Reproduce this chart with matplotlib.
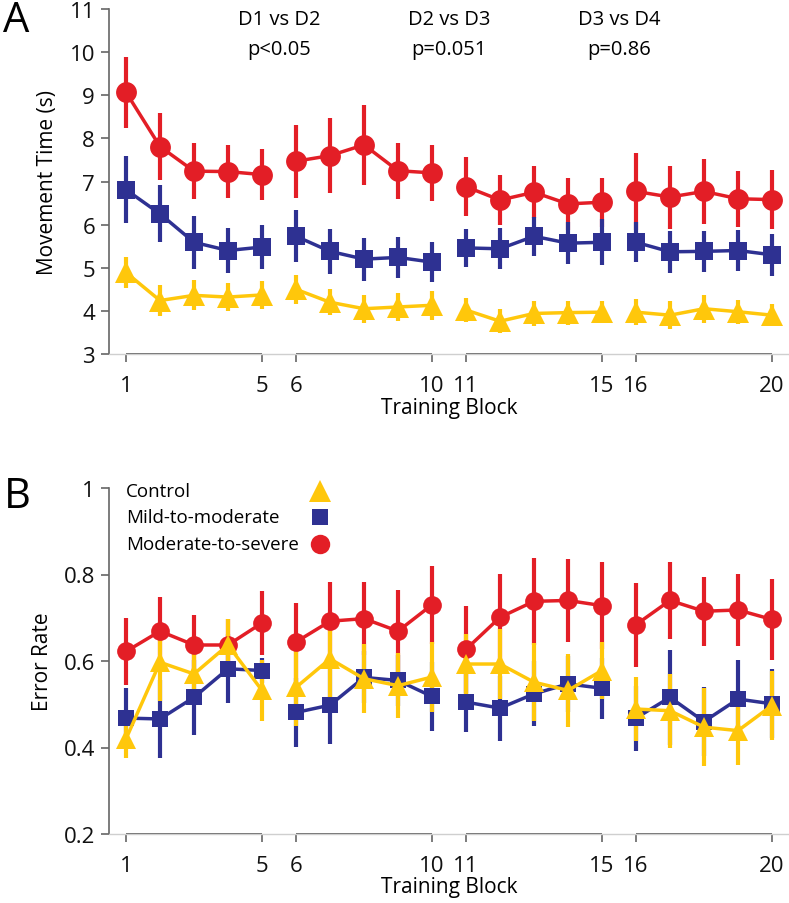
import matplotlib
matplotlib.use("Agg")
import matplotlib.pyplot as plt
import numpy as np

plt.rcParams['font.family'] = ['Open Sans', 'DejaVu Sans']

blocks = np.arange(1, 21)
groups = [(1, 5), (6, 10), (11, 15), (16, 20)]

# Panel A: movement time (s)
mt_severe = [9.07, 7.81, 7.24, 7.23, 7.16, 7.47, 7.60, 7.85, 7.25, 7.20,
             6.88, 6.57, 6.75, 6.48, 6.52, 6.77, 6.64, 6.77, 6.60, 6.58]
mt_severe_err = [0.82, 0.77, 0.65, 0.62, 0.60, 0.85, 0.87, 0.93, 0.65, 0.65,
                 0.68, 0.57, 0.60, 0.60, 0.57, 0.90, 0.73, 0.76, 0.65, 0.68]
mt_mild = [6.81, 6.25, 5.59, 5.40, 5.48, 5.73, 5.38, 5.20, 5.24, 5.13,
           5.46, 5.44, 5.73, 5.57, 5.59, 5.59, 5.37, 5.38, 5.40, 5.30]
mt_mild_err = [0.78, 0.66, 0.62, 0.53, 0.52, 0.60, 0.52, 0.50, 0.48, 0.47,
               0.45, 0.48, 0.45, 0.49, 0.53, 0.46, 0.49, 0.47, 0.48, 0.48]
mt_control = [4.89, 4.24, 4.36, 4.32, 4.37, 4.50, 4.20, 4.05, 4.09, 4.13,
              4.02, 3.76, 3.94, 3.96, 3.97, 3.97, 3.90, 4.05, 3.98, 3.90]
mt_control_err = [0.35, 0.35, 0.35, 0.33, 0.33, 0.33, 0.30, 0.32, 0.32, 0.33,
                  0.28, 0.28, 0.28, 0.28, 0.26, 0.30, 0.32, 0.32, 0.28, 0.26]

# Panel B: error rate
er_severe = [0.622, 0.669, 0.637, 0.637, 0.688, 0.644, 0.692, 0.698, 0.669, 0.730,
             0.627, 0.701, 0.738, 0.740, 0.728, 0.684, 0.740, 0.715, 0.718, 0.696]
er_severe_err = [0.077, 0.080, 0.070, 0.060, 0.075, 0.090, 0.090, 0.085, 0.095, 0.090,
                 0.100, 0.100, 0.100, 0.095, 0.100, 0.097, 0.090, 0.080, 0.083, 0.093]
er_mild = [0.468, 0.466, 0.516, 0.582, 0.578, 0.481, 0.498, 0.562, 0.555, 0.518,
           0.505, 0.491, 0.524, 0.547, 0.537, 0.468, 0.516, 0.460, 0.512, 0.501]
er_mild_err = [0.070, 0.090, 0.087, 0.080, 0.030, 0.080, 0.090, 0.060, 0.060, 0.080,
               0.070, 0.075, 0.075, 0.065, 0.070, 0.075, 0.110, 0.080, 0.090, 0.080]
er_control = [0.420, 0.597, 0.570, 0.637, 0.532, 0.539, 0.605, 0.559, 0.543, 0.563,
              0.593, 0.593, 0.551, 0.532, 0.578, 0.489, 0.485, 0.447, 0.439, 0.497]
er_control_err = [0.045, 0.090, 0.070, 0.060, 0.070, 0.090, 0.100, 0.080, 0.075, 0.080,
                  0.070, 0.080, 0.090, 0.085, 0.065, 0.075, 0.085, 0.090, 0.080, 0.080]

series_labels = ['Control', 'Mild-to-moderate', 'Moderate-to-severe']
xtick_labels = ['1', '5', '6', '10', '11', '15', '16', '20']
comparisons = [('D1 vs D2', 'p<0.05'), ('D2 vs D3', 'p=0.051'), ('D3 vs D4', 'p=0.86')]

RED = '#E31E26'
BLUE = '#2E3192'
YEL = '#FFC70B'
AX = '#666666'

fig = plt.figure(figsize=(7.89, 9.04), dpi=100)
W, H = 789, 904
axA = fig.add_axes([109 / W, 1 - 355 / H, 680 / W, 345 / H])
axB = fig.add_axes([109 / W, 1 - 835 / H, 680 / W, 346 / H])


def draw(ax, data, msizes, lw, elw):
    b = np.array(blocks)
    for vals, errs, col, mk in data:
        ax.errorbar(b, vals, yerr=errs, fmt='none', ecolor=col, elinewidth=elw,
                    capsize=0, zorder=2)
    for (vals, errs, col, mk), ms in zip(data, msizes):
        v = np.array(vals)
        for g0, g1 in groups:
            sel = (b >= g0) & (b <= g1)
            ax.plot(b[sel], v[sel], color=col, lw=lw, marker=mk, ms=ms,
                    markeredgewidth=0, zorder=3)


def style(ax, ylim, yticks, yticklabels):
    ax.set_xlim(0.5, 20.5)
    ax.set_ylim(*ylim)
    for s in ['top', 'right']:
        ax.spines[s].set_visible(False)
    ax.spines['left'].set_color(AX)
    ax.spines['left'].set_linewidth(1.2)
    ax.spines['bottom'].set_color('#cfcfcf')
    ax.spines['bottom'].set_linewidth(1.0)
    ax.set_yticks(yticks)
    ax.set_yticklabels(yticklabels)
    ax.set_xticks([1, 5, 6, 10, 11, 15, 16, 20])
    ax.set_xticklabels(xtick_labels)
    ax.tick_params(axis='both', direction='out', color=AX, width=1.2, length=6,
                   labelsize=16, labelcolor='#111111')
    ax.tick_params(axis='x', pad=9)
    ax.tick_params(axis='y', pad=4)
    for g0, g1 in groups:
        ax.plot([g0, g1], [ylim[0], ylim[0]], color=AX, lw=1.4, clip_on=False,
                zorder=1, solid_capstyle='butt')


draw(axA, [(mt_severe, mt_severe_err, RED, 'o'),
           (mt_mild, mt_mild_err, BLUE, 's'),
           (mt_control, mt_control_err, YEL, '^')],
     [15, 13, 16], 2.5, 3.0)
style(axA, (3, 11), [3, 4, 5, 6, 7, 8, 9, 10, 11],
      ['3', '4', '5', '6', '7', '8', '9', '10', '11'])
axA.set_ylabel('Movement Time (s)', fontsize=15, labelpad=8)
axA.set_xlabel('Training Block', fontsize=15, labelpad=1)
for cx, (l1, l2) in zip([5.5, 10.5, 15.5], comparisons):
    axA.text(cx, 10.77, l1, ha='center', va='center', fontsize=14.5)
    axA.text(cx, 10.07, l2, ha='center', va='center', fontsize=14.5)

draw(axB, [(er_severe, er_severe_err, RED, 'o'),
           (er_mild, er_mild_err, BLUE, 's'),
           (er_control, er_control_err, YEL, '^')],
     [13.5, 11.5, 14.5], 2.5, 3.0)
style(axB, (0.2, 1.0), [0.2, 0.4, 0.6, 0.8, 1.0], ['0.2', '0.4', '0.6', '0.8', '1'])
axB.set_ylabel('Error Rate', fontsize=15, labelpad=8)
axB.set_xlabel('Training Block', fontsize=15, labelpad=0)

# legend
leg_y = [492, 518, 545]
leg_mk = [('^', YEL, 16), ('s', BLUE, 12), ('o', RED, 14)]
for lab, yy, (mk, col, ms) in zip(series_labels, leg_y, leg_mk):
    fig.text(126 / W, 1 - yy / H, lab, ha='left', va='center', fontsize=13.5)
    fig.lines.append(plt.Line2D([320 / W], [1 - yy / H], transform=fig.transFigure,
                                marker=mk, color=col, ms=ms, markeredgewidth=0))

fig.text(3 / W, 1.0, 'A', fontsize=30, ha='left', va='top')
fig.text(4 / W, 1 - 497 / H, 'B', fontsize=30, ha='left', va='center')

fig.savefig('out.png', dpi=100)
